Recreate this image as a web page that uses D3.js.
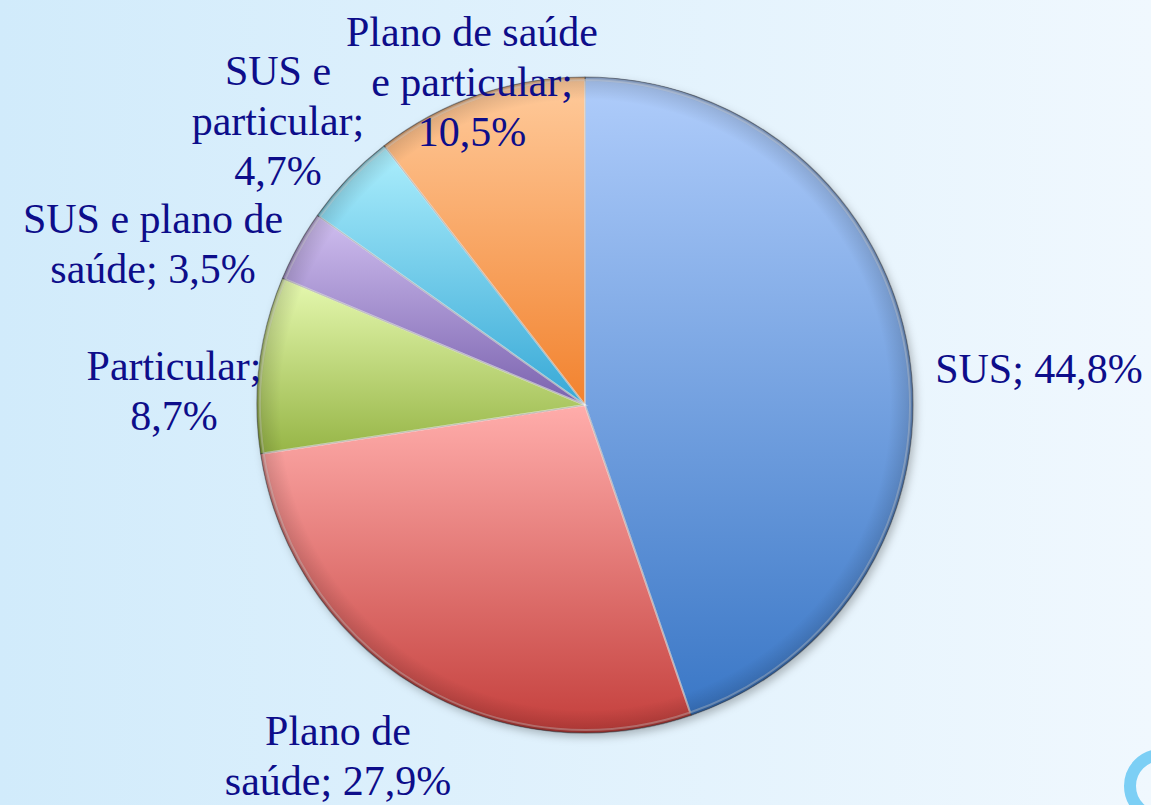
<!DOCTYPE html>
<html><head><meta charset="utf-8">
<script src="https://cdn.jsdelivr.net/npm/d3@7"></script>
<style>html,body{margin:0;padding:0;overflow:hidden;}svg{display:block;}</style>
</head><body>
<svg id="chart" width="1151" height="805"></svg>
<script>
const categories = ["SUS", "Plano de saúde", "Particular", "SUS e plano de saúde", "SUS e particular", "Plano de saúde e particular"];
const values = [44.8, 27.9, 8.7, 3.5, 4.7, 10.5];
const labelLines = [
  ["SUS; 44,8%"],
  ["Plano de", "saúde; 27,9%"],
  ["Particular;", "8,7%"],
  ["SUS e plano de", "saúde; 3,5%"],
  ["SUS e", "particular;", "4,7%"],
  ["Plano de saúde", "e particular;", "10,5%"]
];
const topColors = ["#b0cdfb", "#ffadab", "#e6f9b0", "#d0bff0", "#adeffd", "#ffcb9c"];
const bottomColors = ["#3a77c6", "#c43f3c", "#96b546", "#7a62ae", "#37a8d6", "#f2822e"];
// label anchor positions (center x, first baseline y)
const labelPos = [[1039, 383], [338, 745], [174, 380], [153, 233], [278, 85], [472, 46]];

const svg = d3.select("#chart");
const W = 1151, H = 805;
const defs = svg.append("defs");

const bg = defs.append("linearGradient").attr("id", "bg").attr("x1", 0).attr("x2", 1).attr("y1", 0).attr("y2", 0);
bg.append("stop").attr("offset", 0).attr("stop-color", "#d1ebfb");
bg.append("stop").attr("offset", 1).attr("stop-color", "#f0f8fe");
svg.append("rect").attr("width", W).attr("height", H).attr("fill", "url(#bg)");

// decorative ring bottom-right
svg.append("circle").attr("cx", 1161).attr("cy", 786).attr("r", 31)
  .attr("fill", "none").attr("stroke", "#7ccff5").attr("stroke-width", 12);

const cx = 585, cy = 405, R = 328;

categories.forEach((c, i) => {
  const g = defs.append("linearGradient").attr("id", "g" + i).attr("x1", 0).attr("x2", 0).attr("y1", 0).attr("y2", 1);
  g.append("stop").attr("offset", 0).attr("stop-color", topColors[i]);
  g.append("stop").attr("offset", 1).attr("stop-color", bottomColors[i]);
});

const rim = defs.append("radialGradient").attr("id", "rim").attr("cx", 0.5).attr("cy", 0.5).attr("r", 0.5);
rim.append("stop").attr("offset", 0).attr("stop-color", "#000").attr("stop-opacity", 0);
rim.append("stop").attr("offset", 0.93).attr("stop-color", "#000").attr("stop-opacity", 0);
rim.append("stop").attr("offset", 0.985).attr("stop-color", "#000").attr("stop-opacity", 0.12);
rim.append("stop").attr("offset", 1).attr("stop-color", "#000").attr("stop-opacity", 0.3);

const shadow = defs.append("filter").attr("id", "shadow").attr("x", "-10%").attr("y", "-10%").attr("width", "130%").attr("height", "130%");
shadow.append("feDropShadow").attr("dx", 3).attr("dy", 4).attr("stdDeviation", 4).attr("flood-color", "#000").attr("flood-opacity", 0.25);

const pie = d3.pie().sort(null).value(d => d)(values);
const arc = d3.arc().innerRadius(0).outerRadius(R);

const pg = svg.append("g").attr("transform", `translate(${cx},${cy})`);
pg.append("circle").attr("r", R).attr("fill", "#7a8ca8").attr("filter", "url(#shadow)");
pg.selectAll("path.slice").data(pie).join("path").attr("class", "slice")
  .attr("d", arc).attr("fill", (d, i) => `url(#g${i})`)
  .attr("stroke", "rgba(60,60,60,0.45)").attr("stroke-width", 1.2).attr("stroke-linejoin", "round");
// bevel highlight lines (inner)
const arcIn = d3.arc().innerRadius(0).outerRadius(R - 3);
pg.selectAll("path.hl").data(pie).join("path").attr("class", "hl")
  .attr("d", arcIn).attr("fill", "none")
  .attr("stroke", "rgba(255,255,255,0.35)").attr("stroke-width", 2);
pg.append("circle").attr("r", R).attr("fill", "url(#rim)").attr("pointer-events", "none");

// labels
const lg = svg.append("g").attr("font-family", "'Liberation Serif', serif").attr("font-size", 42).attr("fill", "#0d0d8a").attr("text-anchor", "middle");
labelLines.forEach((lines, i) => {
  const t = lg.append("text").attr("x", labelPos[i][0]).attr("y", labelPos[i][1]);
  lines.forEach((ln, k) => {
    t.append("tspan").attr("x", labelPos[i][0]).attr("dy", k === 0 ? 0 : 50).text(ln);
  });
});
</script>
</body></html>
